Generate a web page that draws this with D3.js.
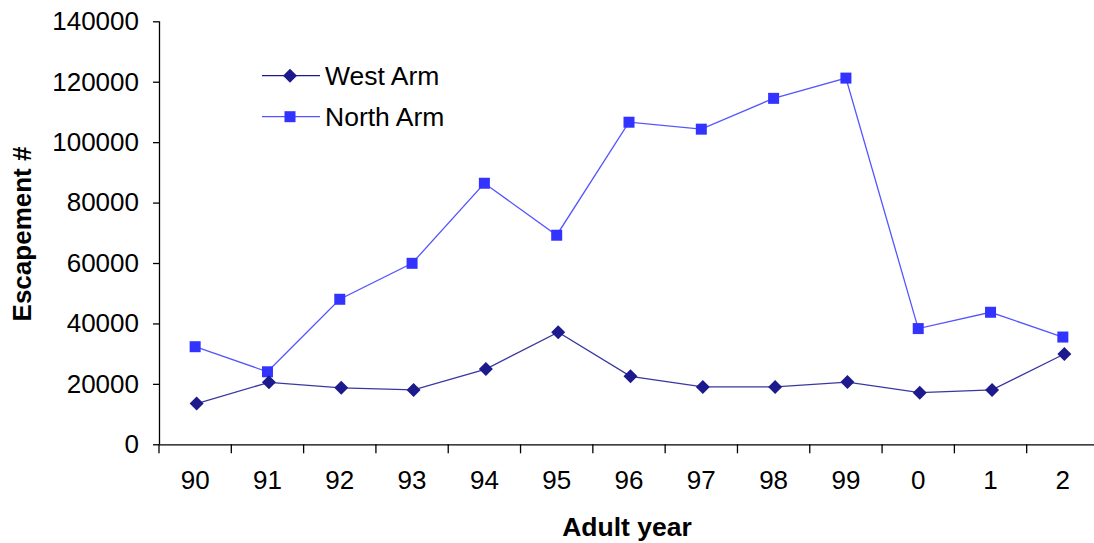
<!DOCTYPE html>
<html><head><meta charset="utf-8">
<script src="https://cdn.jsdelivr.net/npm/d3@7"></script>
<style>body{margin:0;background:#fff;} text{font-family:"Liberation Sans",Arial,sans-serif;}</style>
</head><body>
<svg id="c" width="1094" height="543"></svg>
<script>
const categories = ["90","91","92","93","94","95","96","97","98","99","0","1","2"];
const westArm = [13500,20500,18700,18000,24900,37100,22500,19000,19000,20600,17100,18000,29900];
const northArm = [32300,24000,48000,59900,86400,69200,106600,104300,114500,121200,38300,43700,35500];
const yTicks = [0,20000,40000,60000,80000,100000,120000,140000];

(function(){
const svg = d3.select("#c");
const pLeft = 159, pRight = 1099, pTop = 21.3, pBottom = 444.3;
const x = d3.scaleBand().domain(categories).range([pLeft, pRight]);
const y = d3.scaleLinear().domain([0,140000]).range([pBottom, pTop]);

// y axis
const ya = svg.append("g").attr("transform",`translate(${pLeft},0)`)
  .call(d3.axisLeft(y).tickValues(yTicks).tickFormat(d3.format("d")).tickSize(6).tickPadding(14));
ya.selectAll("text").attr("font-size",26).attr("fill","#000").attr("font-family","Liberation Sans, Arial");
ya.select(".domain").attr("stroke","#000").attr("stroke-width",1.3).attr("d",`M0.5,${pBottom}V${pTop}`);
ya.selectAll(".tick line").attr("stroke","#000").attr("stroke-width",1.3);

// x axis
const xa = svg.append("g").attr("transform",`translate(0,${pBottom})`)
  .call(d3.axisBottom(x).tickSize(0).tickPadding(26));
xa.selectAll("text").attr("font-size",26).attr("fill","#000").attr("font-family","Liberation Sans, Arial");
xa.select(".domain").attr("stroke","#000").attr("stroke-width",1.3).attr("d",`M${pLeft},0.5H${pRight}`);
const bounds = categories.map(c => x(c)).concat([pRight]);
xa.selectAll(".bt").data(bounds).enter().append("line")
  .attr("x1",d=>d).attr("x2",d=>d).attr("y1",0).attr("y2",9)
  .attr("stroke","#000").attr("stroke-width",1.3);

const cx = c => x(c) + x.bandwidth()/2;

// North Arm
const nColor = "#3333ff";
svg.append("path").datum(northArm)
  .attr("fill","none").attr("stroke","#5555ff").attr("stroke-width",1.3)
  .attr("d", d3.line().x((d,i)=>cx(categories[i])).y(d=>y(d)));
svg.selectAll(".nm").data(northArm).enter().append("rect")
  .attr("x",(d,i)=>cx(categories[i])-5.5).attr("y",d=>y(d)-5.5)
  .attr("width",11).attr("height",11).attr("fill",nColor);

// West Arm
const wColor = "#1c1a8c";
svg.append("path").datum(westArm)
  .attr("fill","none").attr("stroke","#3a38a0").attr("stroke-width",1.3)
  .attr("d", d3.line().x((d,i)=>cx(categories[i])+1.5).y(d=>y(d)));
const diamond = s => `M0,${-s}L${s},0L0,${s}L${-s},0Z`;
svg.selectAll(".wm").data(westArm).enter().append("path")
  .attr("transform",(d,i)=>`translate(${cx(categories[i])+1.5},${y(d)})`)
  .attr("d",diamond(7)).attr("fill",wColor);

// Legend
const legend = [{name:"West Arm", color:wColor, line:"#1c1a8c", type:"d", yy:75.7},
                {name:"North Arm", color:nColor, line:"#5555ff", type:"s", yy:116.7}];
legend.forEach(l => {
  const g = svg.append("g");
  g.append("line").attr("x1",262).attr("x2",320).attr("y1",l.yy).attr("y2",l.yy)
    .attr("stroke",l.line).attr("stroke-width",1.3);
  if (l.type==="d") g.append("path").attr("transform",`translate(290,${l.yy})`).attr("d",diamond(7)).attr("fill",l.color);
  else g.append("rect").attr("x",284.5).attr("y",l.yy-5.5).attr("width",11).attr("height",11).attr("fill",l.color);
  g.append("text").attr("x",325).attr("y",l.yy).attr("dy","0.35em").attr("font-size",26.5).attr("fill","#000").text(l.name);
});

// Axis titles
svg.append("text").attr("x",(pLeft+pRight)/2 - 2).attr("y",536).attr("text-anchor","middle")
  .attr("font-size",26.5).attr("font-weight","bold").attr("fill","#000").text("Adult year");
svg.append("text").attr("transform","translate(31,234) rotate(-90)").attr("text-anchor","middle")
  .attr("font-size",26).attr("font-weight","bold").attr("fill","#000").text("Escapement #");
})();
</script>
</body></html>
